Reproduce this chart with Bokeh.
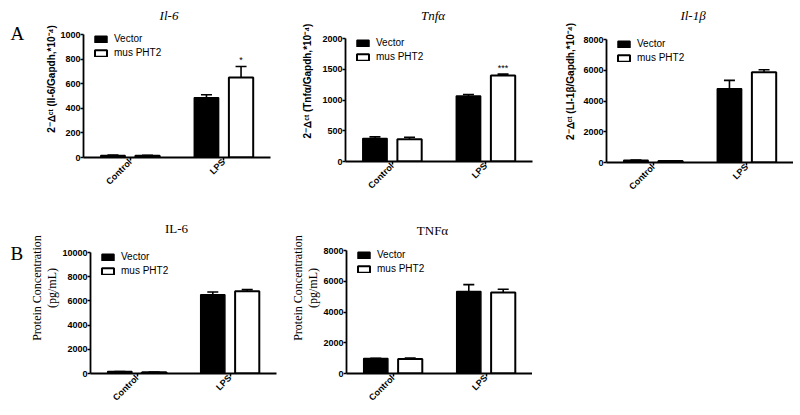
import numpy as np
from bokeh.plotting import figure
from bokeh.layouts import column, row
from bokeh.models import (FactorRange, Range1d, ColumnDataSource, Whisker, TeeHead,
                          Legend, LegendItem, Label, FixedTicker)
from bokeh.transform import dodge
from bokeh.core.properties import value
from bokeh.embed import file_html
from bokeh.resources import INLINE

# ---------------- data ----------------
categories = ["Control", "LPS"]
series = ["Vector", "mus PHT2"]

# A: qPCR  2^-dCt (x10^-4)
il6_vector = [16, 485]
il6_vector_err = [3, 25]
il6_mus = [15, 650]
il6_mus_err = [3, 90]
il6_stars = ["", "*"]
il6_ticks = [0, 200, 400, 600, 800, 1000]

tnfa_vector = [375, 1065]
tnfa_vector_err = [25, 25]
tnfa_mus = [360, 1400]
tnfa_mus_err = [35, 20]
tnfa_stars = ["", "***"]
tnfa_ticks = [0, 500, 1000, 1500, 2000]

il1b_vector = [150, 4800]
il1b_vector_err = [15, 540]
il1b_mus = [100, 5870]
il1b_mus_err = [10, 160]
il1b_stars = ["", ""]
il1b_ticks = [0, 2000, 4000, 6000, 8000]

# B: protein concentration (pg/mL)
il6p_vector = [160, 6500]
il6p_vector_err = [10, 230]
il6p_mus = [100, 6800]
il6p_mus_err = [10, 130]
il6p_stars = ["", ""]
il6p_ticks = [0, 2000, 4000, 6000, 8000, 10000]

tnfp_vector = [975, 5330]
tnfp_vector_err = [20, 450]
tnfp_mus = [940, 5270]
tnfp_mus_err = [70, 210]
tnfp_stars = ["", ""]
tnfp_ticks = [0, 2000, 4000, 6000, 8000]

SANS = "Liberation Sans"
SERIF = "Liberation Serif"
OFF = 0.185
BW = 0.26


def letter_fig(letter, w, h, y):
    f = figure(x_range=Range1d(0, w), y_range=Range1d(h, 0), frame_width=w, frame_height=h,
               min_border=0, x_axis_type=None, y_axis_type=None, frame_align=False,
               output_backend="svg", toolbar_location=None)
    f.outline_line_color = None
    f.add_layout(Label(x=10, y=y, text=letter, text_font=SERIF, text_font_size="19px",
                       text_baseline="middle", text_align="left", text_color="black"))
    return f


def panel(title, title_style, ylabel, ylabel_font, ylabel_style, ylabel_size, ylabel_lh,
          ticks, vec, vec_err, mus, mus_err, stars,
          fw, fh, tick_top, bl, br, bb, title_dx, title_dy, lab_standoff):
    # fh: frame height (frame starts at figure top); tick_top: pixel row of the
    # highest tick measured from the frame top; the frame above it holds the title.
    span = fh - tick_top
    ytop = ticks[-1] * fh / span
    p = figure(x_range=FactorRange(*categories, range_padding=0.0),
               y_range=Range1d(ticks[0], ytop),
               frame_width=fw, frame_height=fh,
               min_border_left=bl, min_border_right=br,
               min_border_top=0, min_border_bottom=bb, frame_align=False,
               output_backend="svg", toolbar_location=None)
    p.xgrid.visible = False
    p.ygrid.visible = False
    p.outline_line_color = None

    # title (drawn inside the frame, above the axis top)
    p.add_layout(Label(x=1.0, y=ticks[-1] * (fh - title_dy) / span, x_offset=title_dx,
                       text=title, text_font=SERIF, text_font_style=title_style,
                       text_font_size="13px", text_color="black",
                       text_align="center", text_baseline="middle"))

    src = ColumnDataSource(dict(
        cat=categories,
        vec=vec,
        vec_up=[v + e for v, e in zip(vec, vec_err)],
        mus=mus,
        mus_up=[v + e for v, e in zip(mus, mus_err)],
        star=stars,
    ))
    xv = dodge("cat", -OFF, range=p.x_range)
    xm = dodge("cat", OFF, range=p.x_range)

    for base, lo, hi in ((xv, "vec", "vec_up"), (xm, "mus", "mus_up")):
        p.add_layout(Whisker(base=base, lower=lo, upper=hi, source=src, dimension="height",
                             lower_head=None,
                             upper_head=TeeHead(size=11, line_width=1.6, line_color="black"),
                             line_width=1.6, line_color="black", level="glyph"))
    r1 = p.vbar(x=xv, top="vec", width=BW, source=src, fill_color="black",
                line_color="black", line_width=1.5)
    r2 = p.vbar(x=xm, top="mus", width=BW, source=src, fill_color="white",
                line_color="black", line_width=2)
    p.text(x=xm, y="mus_up", text="star", source=src, text_align="center",
           text_baseline="bottom", y_offset=-1, text_font=value(SANS),
           text_font_size="9px", text_color="black")

    legend = Legend(items=[LegendItem(label=series[0], renderers=[r1]),
                           LegendItem(label=series[1], renderers=[r2])],
                    location=(10, span - 24), glyph_width=15, glyph_height=8,
                    label_height=8, spacing=3, padding=0, margin=0,
                    label_standoff=6, label_text_font=SANS, label_text_font_size="10px",
                    label_text_color="black",
                    background_fill_alpha=0, border_line_color=None)
    p.add_layout(legend)

    for ax in (p.xaxis[0], p.yaxis[0]):
        ax.axis_line_width = 1.8
        ax.axis_line_color = "black"
        ax.major_tick_line_width = 1.5
        ax.major_tick_line_color = "black"
        ax.major_tick_out = 3
        ax.major_tick_in = 0
        ax.minor_tick_line_color = None
        ax.major_label_text_font = SANS
        ax.major_label_text_font_style = "bold"
        ax.major_label_text_font_size = "9px"
        ax.major_label_text_color = "black"
        ax.major_label_standoff = 0
    p.yaxis.ticker = FixedTicker(ticks=ticks)
    p.yaxis.bounds = (ticks[0], ticks[-1])
    p.yaxis.axis_label = ylabel
    p.yaxis.axis_label_text_font = ylabel_font
    p.yaxis.axis_label_text_font_style = ylabel_style
    p.yaxis.axis_label_text_font_size = ylabel_size
    p.yaxis.axis_label_text_line_height = ylabel_lh
    p.yaxis.axis_label_text_color = "black"
    p.yaxis.axis_label_standoff = lab_standoff
    p.xaxis.major_label_orientation = np.pi / 4
    return p


qlab = "2\u207b\u1403\u1d9c\u1d57 ({}/Gapdh,*10\u207b\u2074)"
plab = "Protein Concentration\n(pg/mL)"

# ---- row A (top at page y = 0) ----
la = letter_fig("A", 38, 202, 33)
a1 = panel("Il-6", "italic", qlab.format("Il-6"), SANS, "bold", "10px", 1.2,
           il6_ticks, il6_vector, il6_vector_err, il6_mus, il6_mus_err, il6_stars,
           187, 157, 34, 45, 19, 45, -8, 15, 0)
a2 = panel("Tnf\u03b1", "italic", qlab.format("Tnf\u03b1"), SANS, "bold", "10px", 1.2,
           tnfa_ticks, tnfa_vector, tnfa_vector_err, tnfa_mus, tnfa_mus_err, tnfa_stars,
           187, 161, 38, 56, 22, 41, -6, 15, 6)
a3 = panel("Il-1\u03b2", "italic", qlab.format("LI-1\u03b2"), SANS, "bold", "10px", 1.2,
           il1b_ticks, il1b_vector, il1b_vector_err, il1b_mus, il1b_mus_err, il1b_stars,
           187, 162, 39, 52, 0, 40, -7, 15, 4)

# ---- row B (top at page y = 202) ----
lb = letter_fig("B", 27, 212, 51)
b1 = panel("IL-6", "normal", plab, SERIF, "normal", "12px", 1.1,
           il6p_ticks, il6p_vector, il6p_vector_err, il6p_mus, il6p_mus_err, il6p_stars,
           186, 171, 50, 60, 12, 41, -7, 26, 0)
b2 = panel("TNF\u03b1", "normal", plab, SERIF, "normal", "12px", 1.1,
           tnfp_ticks, tnfp_vector, tnfp_vector_err, tnfp_mus, tnfp_mus_err, tnfp_stars,
           186, 171, 48, 58, 0, 41, -7, 28, 0)

layout = column(row(la, a1, a2, a3, spacing=0), row(lb, b1, b2, spacing=0), spacing=0)

open("out.html", "w").write(file_html(layout, INLINE))
